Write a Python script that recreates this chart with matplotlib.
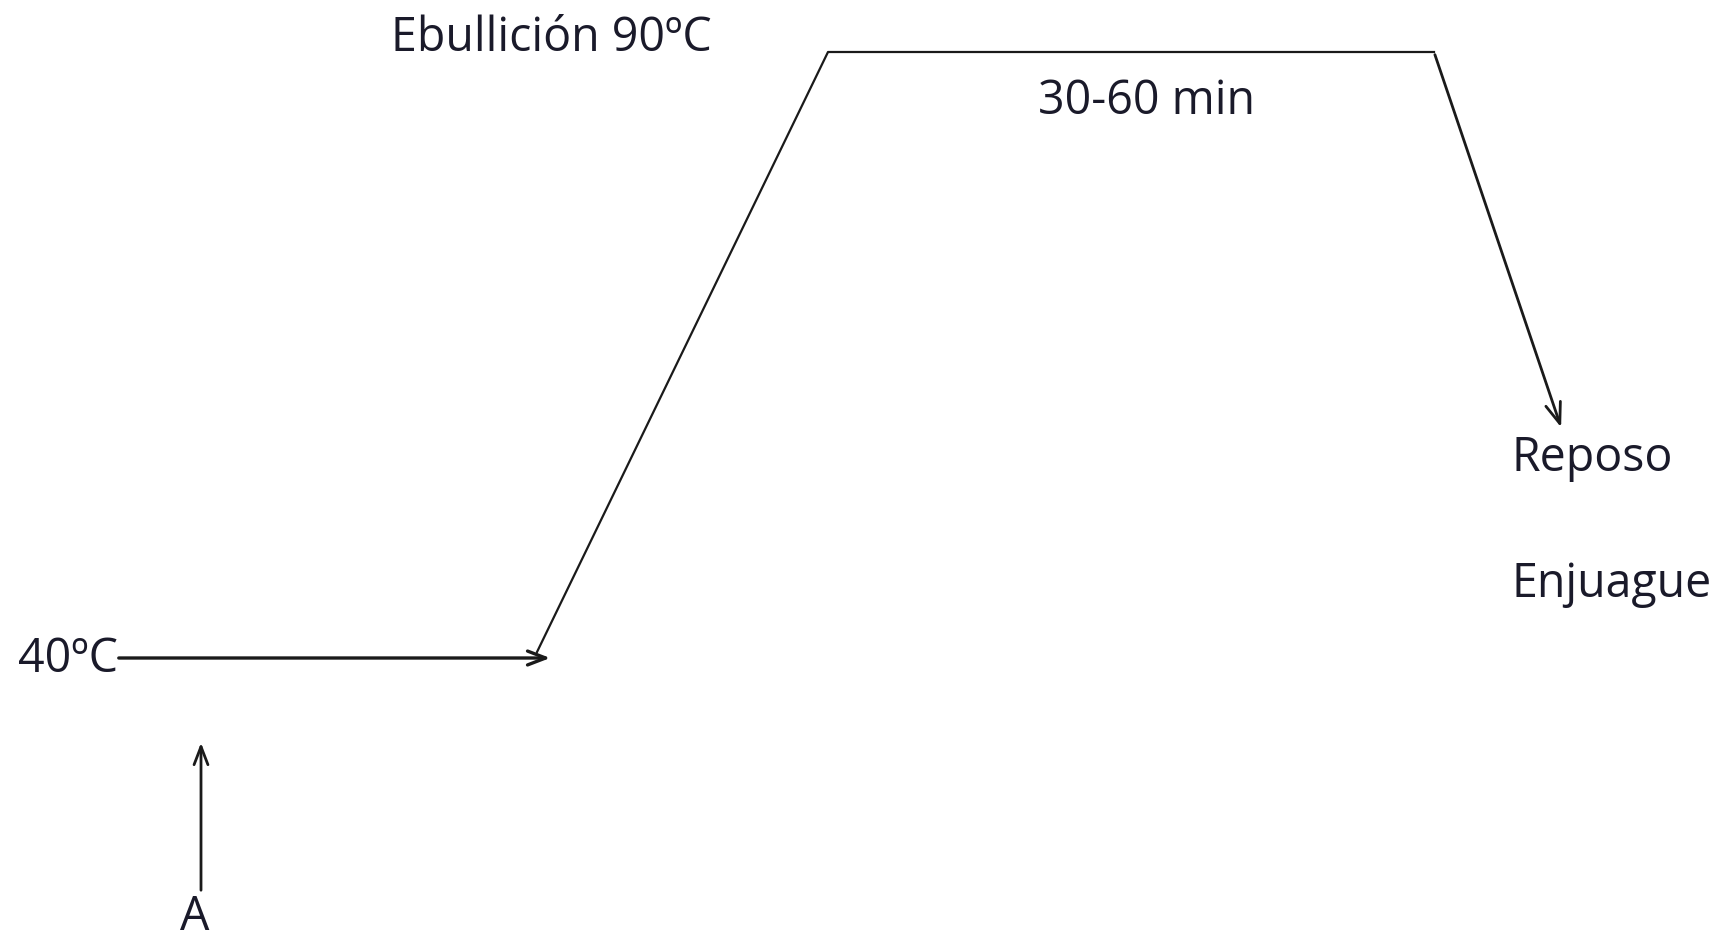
import matplotlib.pyplot as plt

# puntos del perfil de temperatura (coordenadas en pixeles de la imagen)
perfil_x = [537, 828, 1434]
perfil_y = [652, 52, 52]
bajada_x = [1434, 1562]
bajada_y = [52, 430]
flecha40_x = [116, 553]
flecha40_y = [658, 658]
flechaA_x = [201, 201]
flechaA_y = [893, 740]

etiquetas = ["Ebullición 90ºC", "30-60 min", "Reposo", "Enjuague", "40ºC", "A"]
etiq_x = [391, 1038, 1511, 1511, 18, 195]
etiq_y = [38, 101, 458, 584, 659, 917]
etiq_ha = ["left", "left", "left", "left", "left", "center"]

fig = plt.figure(figsize=(17.19, 9.39), dpi=100)
ax = fig.add_axes([0, 0, 1, 1])
ax.set_xlim(0, 1719)
ax.set_ylim(939, 0)
ax.axis("off")

ax.plot(perfil_x, perfil_y, color="#1a1a1a", lw=1.6)
ax.annotate("", xy=(bajada_x[1], bajada_y[1]), xytext=(bajada_x[0], bajada_y[0]),
            arrowprops=dict(arrowstyle="->,head_length=1.5,head_width=0.55", color="#1a1a1a", lw=2.0))
ax.annotate("", xy=(flecha40_x[1], flecha40_y[1]), xytext=(flecha40_x[0], flecha40_y[0]),
            arrowprops=dict(arrowstyle="->,head_length=1.3,head_width=0.5", color="#1a1a1a", lw=2.4))
ax.annotate("", xy=(flechaA_x[1], flechaA_y[1]), xytext=(flechaA_x[0], flechaA_y[0]),
            arrowprops=dict(arrowstyle="->,head_length=1.3,head_width=0.5", color="#1a1a1a", lw=2.0))

for t, x, y, ha in zip(etiquetas, etiq_x, etiq_y, etiq_ha):
    ax.text(x, y, t, fontsize=33.5, family="Open Sans", color="#1a1a2a", ha=ha, va="center")

fig.savefig("out.png", dpi=100, facecolor="white")
